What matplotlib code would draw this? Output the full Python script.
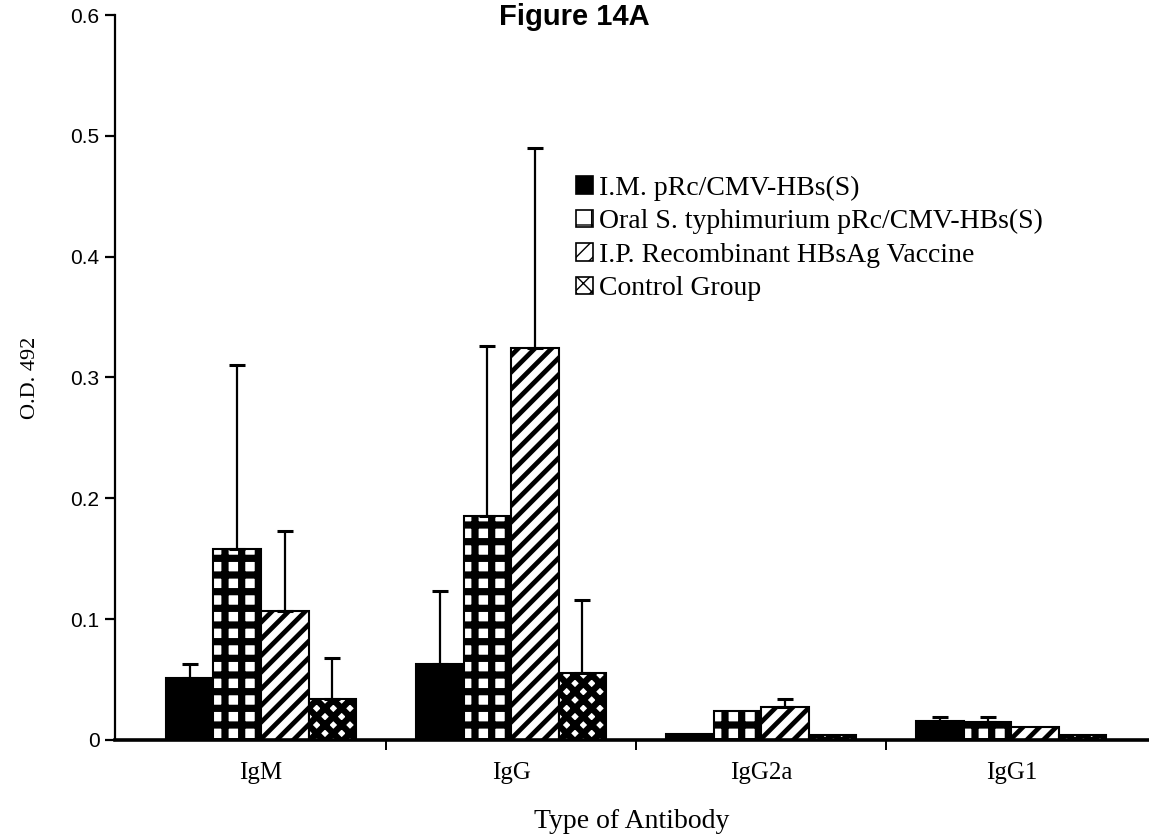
import matplotlib
matplotlib.use("Agg")
import matplotlib.pyplot as plt
from matplotlib.patches import Patch
import numpy as np

# Antibody classes on the x axis
categories = ["IgM", "IgG", "IgG2a", "IgG1"]

# Group names
series_names = [
    "I.M. pRc/CMV-HBs(S)",
    "Oral S. typhimurium pRc/CMV-HBs(S)",
    "I.P. Recombinant HBsAg Vaccine",
    "Control Group",
]

# Mean O.D. 492 per group and the upper error (SD)
im_vals = [0.051, 0.063, 0.005, 0.016]
im_err = [0.012, 0.060, 0.0, 0.003]
oral_vals = [0.158, 0.185, 0.024, 0.015]
oral_err = [0.152, 0.141, 0.0, 0.004]
ip_vals = [0.107, 0.324, 0.027, 0.011]
ip_err = [0.066, 0.166, 0.007, 0.0]
ctrl_vals = [0.034, 0.055, 0.004, 0.004]
ctrl_err = [0.034, 0.061, 0.0, 0.0]

y_ticks = [0, 0.1, 0.2, 0.3, 0.4, 0.5, 0.6]
y_tick_labels = ["0", "0.1", "0.2", "0.3", "0.4", "0.5", "0.6"]

values = [im_vals, oral_vals, ip_vals, ctrl_vals]
errors = [im_err, oral_err, ip_err, ctrl_err]

# Fill styles: solid, checkerboard, diagonal stripes, diamonds
styles = [
    dict(facecolor="black", hatch=None, hlw=1.0),
    dict(facecolor="white", hatch="+", hlw=5.2),
    dict(facecolor="white", hatch="//", hlw=3.4),
    dict(facecolor="white", hatch="xx", hlw=4.6),
]

serif = "Liberation Serif"
sans = "Liberation Sans"

fig = plt.figure(figsize=(11.49, 8.36), dpi=100)
ax = fig.add_axes([0.100, 0.115, 0.900, 0.867])

x = np.arange(len(categories))
width = 0.19

for j, (vals, errs, st) in enumerate(zip(values, errors, styles)):
    pos = x + (j - 1.5) * width
    with plt.rc_context({"hatch.linewidth": st["hlw"], "hatch.color": "black"}):
        bars = ax.bar(pos, vals, width, facecolor=st["facecolor"],
                      edgecolor="black", linewidth=1.5, hatch=st["hatch"],
                      zorder=2)
        for b in bars:
            if hasattr(b, "set_hatch_linewidth"):
                b.set_hatch_linewidth(st["hlw"])
    errs = np.asarray(errs)
    vals = np.asarray(vals)
    keep = errs > 0
    ax.errorbar(pos[keep], vals[keep],
                yerr=[np.zeros(keep.sum()), errs[keep]],
                fmt="none", ecolor="black", elinewidth=1.6,
                capsize=6, capthick=2.2, zorder=3)

ax.set_xlim(-0.584, 3.55)
ax.set_ylim(0, 0.6)

for side in ("top", "right"):
    ax.spines[side].set_visible(False)
ax.spines["left"].set_linewidth(1.6)
ax.spines["bottom"].set_linewidth(2.6)

ax.set_yticks(y_ticks)
ax.set_yticklabels(y_tick_labels, fontfamily=sans, fontsize=15)
ax.tick_params(axis="y", direction="out", length=7, width=1.6, pad=4)

ax.set_xticks(x)
ax.set_xticklabels(categories, fontfamily=serif, fontsize=18)
ax.tick_params(axis="x", which="major", length=0, pad=16)
ax.set_xticks(x[:-1] + 0.5, minor=True)
ax.tick_params(axis="x", which="minor", direction="out", length=7, width=1.4)

ax.set_xlabel("Type of Antibody", fontfamily=serif, fontsize=20, labelpad=18)
ax.set_ylabel("O.D. 492", fontfamily=serif, fontsize=16, labelpad=22)

# Legend with patterned squares
handles = []
for st in styles:
    with plt.rc_context({"hatch.linewidth": 2.0}):
        h = Patch(facecolor=st["facecolor"], edgecolor="black",
                  hatch=st["hatch"], linewidth=1.2)
        if hasattr(h, "set_hatch_linewidth"):
            h.set_hatch_linewidth(2.0)
    handles.append(h)
leg = fig.legend(handles, series_names, loc="upper left",
                 bbox_to_anchor=(0.492, 0.803), frameon=False,
                 prop={"family": serif, "size": 20},
                 handlelength=0.6, handleheight=0.6, handletextpad=0.2,
                 labelspacing=0.3, borderaxespad=0)

fig.text(0.5, 0.997, "Figure 14A", ha="center", va="top",
         fontfamily=sans, fontweight="bold", fontsize=21)

fig.savefig("out.png", dpi=100, facecolor="white")
